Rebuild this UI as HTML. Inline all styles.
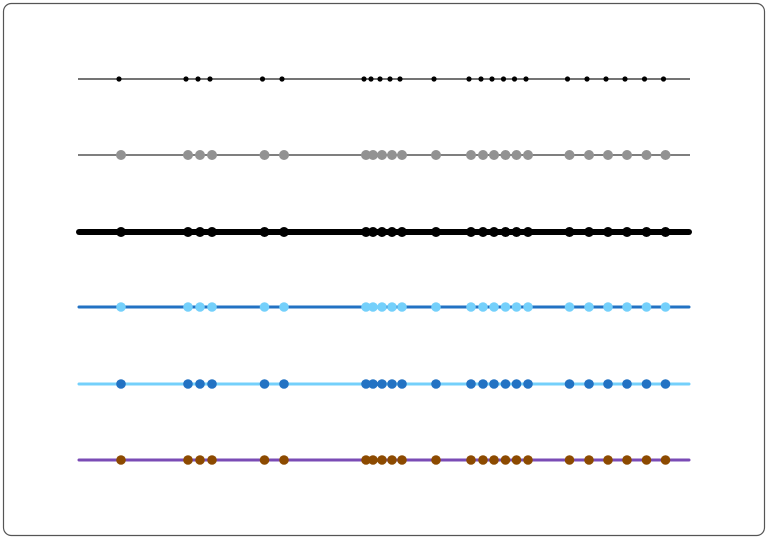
<!DOCTYPE html>
<html><head><meta charset="utf-8"><style>
html,body{margin:0;padding:0;background:#fff;width:768px;height:539px;overflow:hidden}
</style></head><body>
<svg id="s" width="768" height="539" xmlns="http://www.w3.org/2000/svg">
<rect x="3.5" y="3.5" width="761" height="532" rx="8" ry="8" fill="#fff" stroke="#555" stroke-width="1.2"/>
</svg>
<script>
var xs=[121,188,200,212,264.5,284,366,373,382,392,402,436,471,483,494,505.5,516.5,528,569.5,589,608,627,646.5,665.5];
var rows=[
 {y:79,lc:'#222',lw:1.2,x1:78,x2:690,dc:'#000',r:2.6,dx:-2,cap:'butt'},
 {y:155,lc:'#555',lw:1.5,x1:78,x2:690,dc:'#929292',r:5,dx:0,cap:'butt'},
 {y:232,lc:'#000',lw:6,x1:79,x2:689,dc:'#000',r:5,dx:0,cap:'round'},
 {y:307,lc:'#2272c3',lw:3,x1:79,x2:689,dc:'#74d0fb',r:4.8,dx:0,cap:'round'},
 {y:384,lc:'#74d0fb',lw:3,x1:79,x2:689,dc:'#2272c3',r:4.8,dx:0,cap:'round'},
 {y:460,lc:'#7a4bb5',lw:3,x1:79,x2:689,dc:'#8c4a00',r:4.8,dx:0,cap:'round'}
];
var s=document.getElementById('s'),h='';
rows.forEach(function(r){
 h+='<line x1="'+r.x1+'" y1="'+r.y+'" x2="'+r.x2+'" y2="'+r.y+'" stroke="'+r.lc+'" stroke-width="'+r.lw+'" stroke-linecap="'+r.cap+'"/>';
 xs.forEach(function(x){h+='<circle cx="'+(x+r.dx)+'" cy="'+r.y+'" r="'+r.r+'" fill="'+r.dc+'"/>';});
});
s.innerHTML+=h;
</script>
</body></html>
